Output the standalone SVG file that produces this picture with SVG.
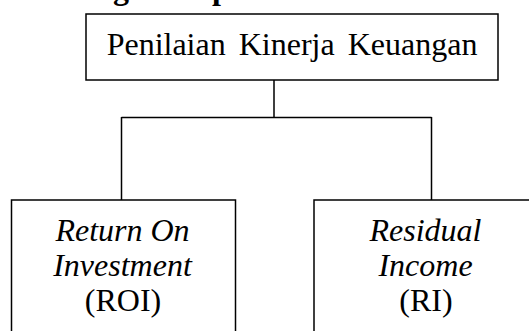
<svg xmlns="http://www.w3.org/2000/svg" width="529" height="331" viewBox="0 0 529 331">
<style>
.box{fill:#fff;stroke:#000;stroke-width:1.5}
.t{font-family:"Liberation Serif","Times New Roman",serif;font-size:32px;fill:#000;text-anchor:middle}
.i{font-style:italic}
.b{font-family:"Liberation Serif","Times New Roman",serif;font-size:32px;font-weight:bold;fill:#000}
.c{fill:none;stroke:#000;stroke-width:1.5}
</style>
<rect width="529" height="331" fill="#fff"/>
<text class="b" x="113" y="-1">g</text>
<text class="b" x="212" y="-1">p</text>
<g id="connectors">
<path class="c" d="M274 80 V117.5 M121.5 117.5 H431.5 M121.5 117 V200 M431.5 117 V200"/>
</g>
<g id="node-top">
<rect class="box" x="86" y="14" width="412" height="66"/>
<text class="t" x="292" y="55" word-spacing="5">Penilaian Kinerja Keuangan</text>
</g>
<g id="node-roi">
<rect class="box" x="11.5" y="200" width="224" height="160"/>
<text class="t i" x="122.5" y="240.5">Return On</text>
<text class="t i" x="122.5" y="276">Investment</text>
<text class="t" x="123" y="310.5">(ROI)</text>
</g>
<g id="node-ri">
<rect class="box" x="314" y="200" width="224" height="160"/>
<text class="t i" x="425.5" y="240.5">Residual</text>
<text class="t i" x="425.5" y="276">Income</text>
<text class="t" x="426" y="310.5">(RI)</text>
</g>
</svg>
